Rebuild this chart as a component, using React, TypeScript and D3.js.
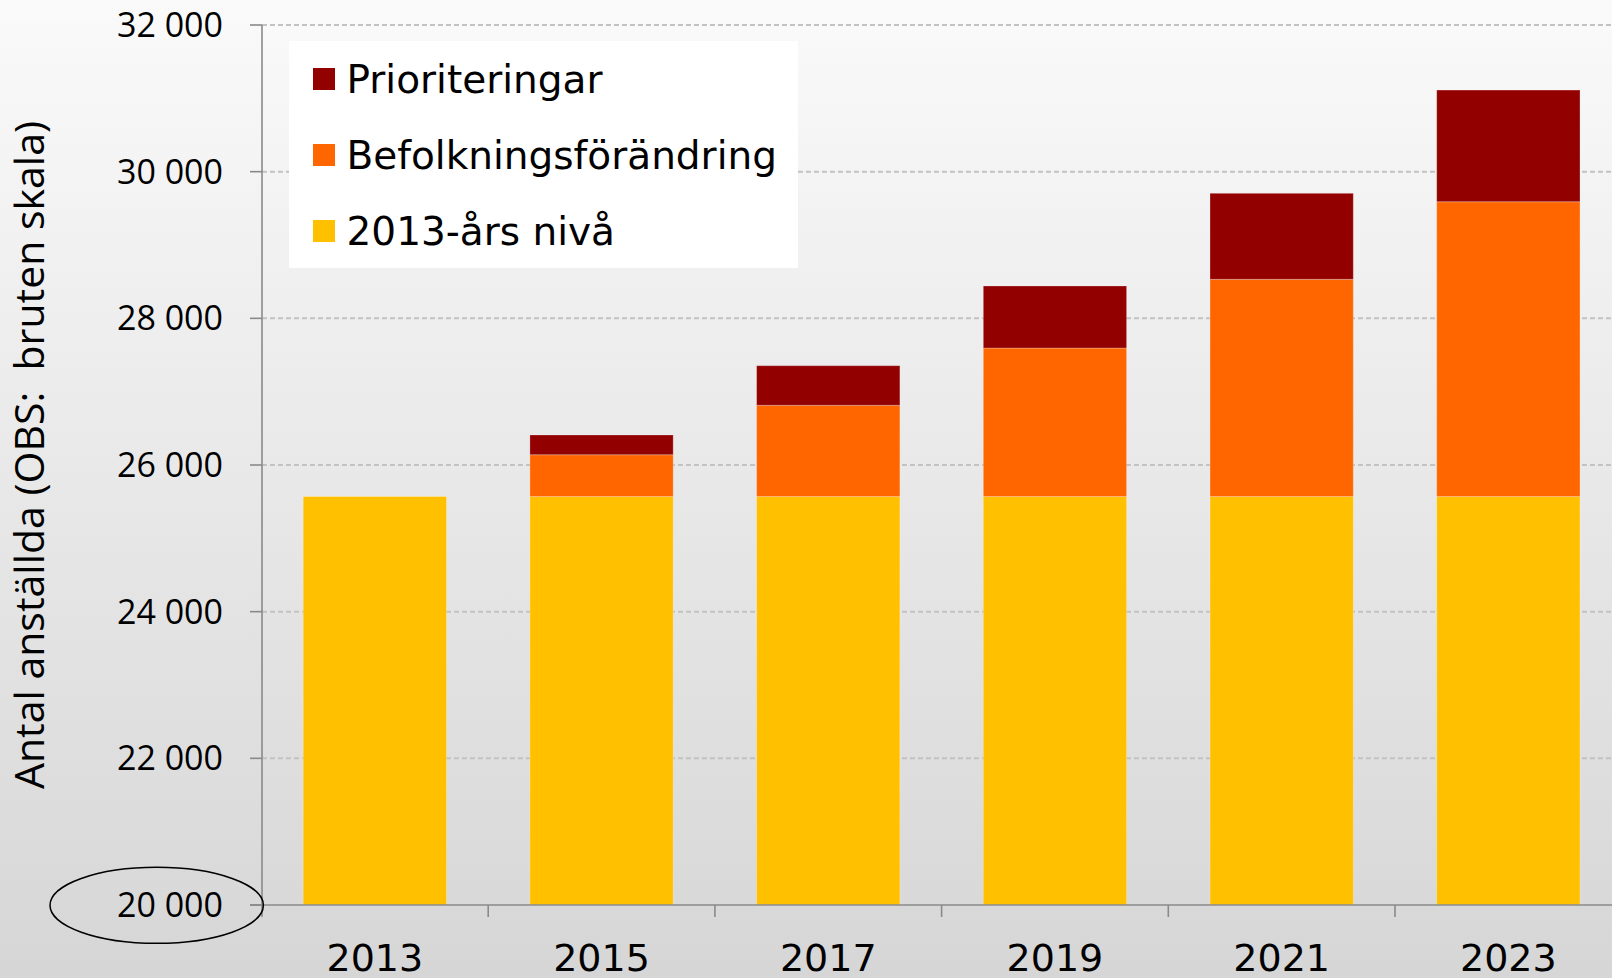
import React from "react";
import * as d3 from "d3";

const years = ["2013", "2015", "2017", "2019", "2021", "2023"];
const niva2013 = [25570, 25570, 25570, 25570, 25570, 25570];
const befolkning = [0, 570, 1244, 2025, 2962, 4020];
const prioriteringar = [0, 269, 540, 846, 1173, 1523];
const yTicks = [20000, 22000, 24000, 26000, 28000, 30000, 32000];

const seriesKeys = ["niva", "befolkning", "prior"];
const seriesNames: Record<string, string> = {
  prior: "Prioriteringar",
  befolkning: "Befolkningsförändring",
  niva: "2013-års nivå",
};
const seriesColors: Record<string, string> = {
  niva: "#FFC000",
  befolkning: "#FF6600",
  prior: "#920000",
};
const legendOrder = ["prior", "befolkning", "niva"];

const W = 1612;
const H = 978;

export default function App() {
  const x0 = 261.5;
  const step = 226.7;
  const x = d3
    .scaleBand<string>()
    .domain(years)
    .range([x0, x0 + step * years.length])
    .paddingInner(0.368)
    .paddingOuter(0.184);
  const y = d3.scaleLinear().domain([20000, 32000]).range([905, 25]).clamp(true);

  const rows = years.map((yr, i) => ({
    year: yr,
    niva: niva2013[i],
    befolkning: befolkning[i],
    prior: prioriteringar[i],
  }));
  const stacked = d3.stack<any>().keys(seriesKeys)(rows);

  const fmt = (v: number) => d3.format(",")(v).replace(/,/g, " ");
  const baseY = y(20000);

  return (
    <svg
      width={W}
      height={H}
      style={{ position: "absolute", left: 0, top: 0, display: "block" }}
    >
      <defs>
        <linearGradient id="bg" x1="0" y1="0" x2="0" y2="1">
          <stop offset="0%" stopColor="#fafafa" />
          <stop offset="100%" stopColor="#d6d6d6" />
        </linearGradient>
      </defs>
      <rect x={0} y={0} width={W} height={H} fill="url(#bg)" />

      {/* gridlines */}
      {yTicks
        .filter((t) => t !== 20000)
        .map((t) => (
          <line
            key={"g" + t}
            x1={262}
            x2={W}
            y1={y(t)}
            y2={y(t)}
            stroke="#c2c2c2"
            strokeWidth={2}
            strokeDasharray="5,3"
          />
        ))}

      {/* bars */}
      {stacked.map((s) => (
        <g key={s.key} fill={seriesColors[s.key]}>
          {s.map((d, i) =>
            d[1] - d[0] > 0 ? (
              <rect
                key={i}
                x={x(years[i])}
                width={x.bandwidth()}
                y={y(d[1])}
                height={y(d[0]) - y(d[1])}
                stroke="rgba(255,255,255,0.25)"
                strokeWidth={1}
              />
            ) : null
          )}
        </g>
      ))}

      {/* axes */}
      <line x1={262} x2={262} y1={y(32000)} y2={baseY + 12} stroke="#8a8a8a" strokeWidth={1.6} />
      <line x1={250} x2={W} y1={baseY} y2={baseY} stroke="#8a8a8a" strokeWidth={1.6} />
      {yTicks.map((t) => (
        <g key={"t" + t}>
          <line x1={250} x2={262} y1={y(t)} y2={y(t)} stroke="#8a8a8a" strokeWidth={1.6} />
          <text
            x={223}
            y={y(t) + 12}
            textAnchor="end"
            fontFamily="'Open Sans', sans-serif"
            fontSize={34}
            fill="#000"
          >
            {fmt(t)}
          </text>
        </g>
      ))}
      {years.map((yr, i) => (
        <g key={"x" + yr}>
          {i > 0 && (
            <line
              x1={x0 + step * i}
              x2={x0 + step * i}
              y1={baseY}
              y2={baseY + 12}
              stroke="#8a8a8a"
              strokeWidth={1.6}
            />
          )}
          <text
            x={(x(yr) as number) + x.bandwidth() / 2}
            y={971}
            textAnchor="middle"
            fontFamily="'DejaVu Sans', sans-serif"
            fontSize={38}
            fill="#000"
          >
            {yr}
          </text>
        </g>
      ))}

      {/* y axis title */}
      <text
        transform="translate(44,455) rotate(-90)"
        textAnchor="middle"
        fontFamily="'Open Sans', sans-serif"
        fontSize={41}
        fill="#000"
        style={{ whiteSpace: "pre" }}
      >
        {"Antal anställda (OBS:  bruten skala)"}
      </text>

      {/* ellipse marking broken scale */}
      <ellipse cx={156.7} cy={905.3} rx={106.7} ry={38} fill="none" stroke="#000" strokeWidth={1.5} />

      {/* legend */}
      <rect x={289} y={41} width={509} height={227} fill="#ffffff" />
      {legendOrder.map((k, i) => {
        const cy = 79 + i * 76;
        return (
          <g key={"l" + k}>
            <rect x={313} y={cy - 11} width={22} height={22} fill={seriesColors[k]} />
            <text
              x={346.5}
              y={cy + 14}
              fontFamily="'DejaVu Sans', sans-serif"
              fontSize={39}
              fill="#000"
            >
              {seriesNames[k]}
            </text>
          </g>
        );
      })}
    </svg>
  );
}
